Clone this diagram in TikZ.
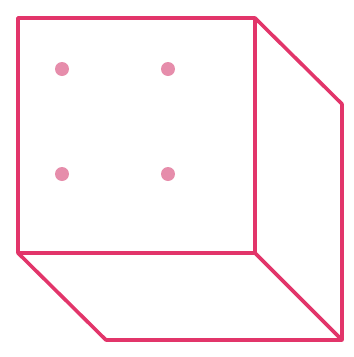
\documentclass[tikz,border=0pt]{standalone}
\usepackage{tikz}
\definecolor{edge}{HTML}{E2356A}
\definecolor{pip}{HTML}{E68DAB}

\begin{document}
\begin{tikzpicture}[x=1pt,y=-1pt,
  e/.style={draw=edge,line width=3.6pt,line join=round,line cap=round},
  d/.style={circle,fill=pip,inner sep=0pt,minimum size=14pt}]
  \useasboundingbox (0,0) rectangle (354,357);
  % front face corners
  \coordinate (ftl) at (18,18);
  \coordinate (ftr) at (255,18);
  \coordinate (fbl) at (18,253);
  \coordinate (fbr) at (255,253);
  % back corners
  \coordinate (btr) at (342,104);
  \coordinate (bbr) at (342,340);
  \coordinate (bbl) at (106,340);
  \draw[e](ftl)--(ftr)--(fbr)--(fbl)--cycle;
  \draw[e](ftr)--(btr)--(bbr)--(bbl)--(fbl);
  \draw[e](fbr)--(bbr);
  % pips
  \node[d](p1) at (62,69){};
  \node[d](p2) at (168,69){};
  \node[d](p3) at (62,174){};
  \node[d](p4) at (168,174){};
\end{tikzpicture}
\end{document}
